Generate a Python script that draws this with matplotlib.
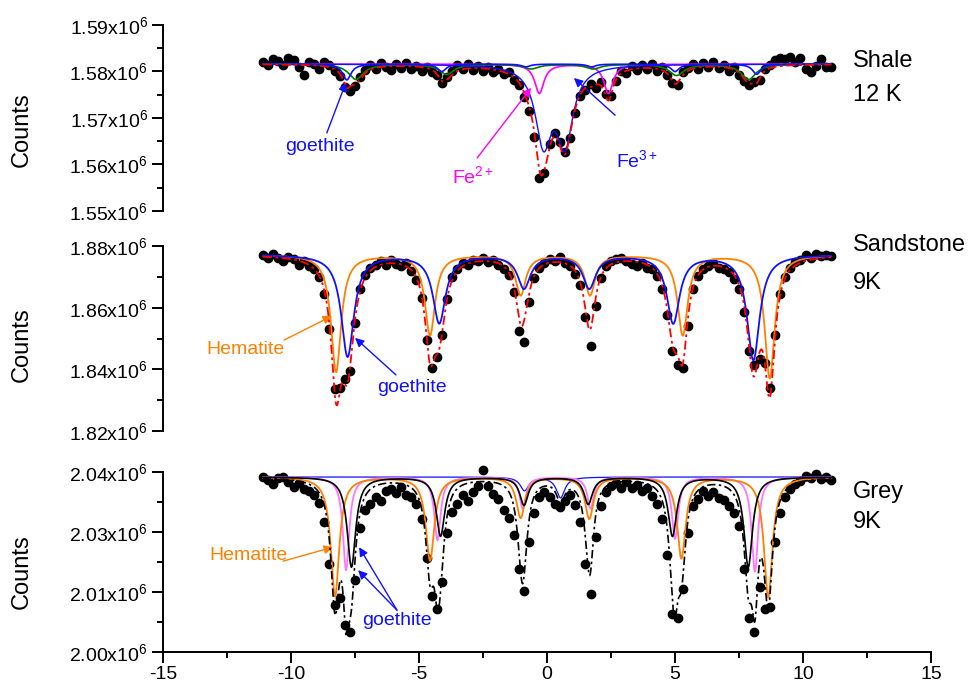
import numpy as np
import matplotlib
matplotlib.use('Agg')
import matplotlib.pyplot as plt

plt.rcParams['font.family'] = ['Liberation Sans', 'DejaVu Sans']
plt.rcParams['mathtext.fontset'] = 'custom'
plt.rcParams['mathtext.rm'] = 'Liberation Sans'
plt.rcParams['mathtext.it'] = 'Liberation Sans:italic'
plt.rcParams['mathtext.bf'] = 'Liberation Sans:bold'
plt.rcParams['axes.unicode_minus'] = False

# ---------------- data (velocity in mm/s, counts in units of 1000) ----------------
velocity = np.round(np.arange(-11.1, 11.1001, 0.2), 2)   # 112 channels

shale_counts = [
    1582.0, 1581.4, 1582.6, 1582.2, 1581.5, 1582.9, 1582.4, 1580.9,
    1579.2, 1582.1, 1581.6, 1580.6, 1582.0, 1581.3, 1580.2, 1579.0,
    1576.6, 1575.9, 1576.8, 1578.9, 1580.4, 1581.5, 1580.6, 1581.8,
    1581.0, 1580.4, 1581.6, 1580.8, 1581.9, 1580.5, 1581.2, 1580.1,
    1581.0, 1579.9, 1579.3, 1577.6, 1578.9, 1580.2, 1581.3, 1580.6,
    1581.6, 1580.4, 1581.2, 1580.0, 1580.9, 1579.8, 1580.6, 1579.4,
    1579.8, 1578.2, 1577.0, 1574.6, 1571.5, 1566.0, 1557.0, 1558.2,
    1564.5, 1566.8, 1564.8, 1562.6, 1565.8, 1571.0, 1574.8, 1576.0,
    1577.4, 1576.5, 1577.8, 1575.2, 1574.8, 1578.0, 1580.2, 1579.6,
    1581.2, 1580.3, 1581.5, 1580.6, 1581.7, 1580.2, 1581.0, 1579.2,
    1577.6, 1577.2, 1579.8, 1580.8, 1581.6, 1580.5, 1581.9, 1581.0,
    1582.0, 1580.8, 1581.4, 1580.2, 1581.0, 1579.2, 1578.0, 1577.0,
    1577.8, 1578.2, 1580.6, 1581.4, 1582.5, 1583.0, 1582.6, 1583.2,
    1582.1, 1582.8, 1580.6, 1579.8, 1581.2, 1582.6, 1581.0, 1580.9]

sandstone_counts = [
    1877.0, 1876.2, 1877.4, 1876.0, 1875.1, 1876.5, 1875.9, 1873.8,
    1875.2, 1873.6, 1872.4, 1869.8, 1864.5, 1853.0, 1833.5, 1834.0,
    1836.8, 1839.5, 1855.0, 1866.2, 1870.5, 1872.8, 1874.0, 1875.3,
    1874.0, 1875.6, 1874.2, 1873.5, 1874.6, 1872.0, 1869.0, 1863.0,
    1849.5, 1840.6, 1844.0, 1851.0, 1862.8, 1869.8, 1872.5, 1874.4,
    1873.9, 1875.6, 1875.0, 1876.0, 1874.8, 1875.4, 1874.0, 1872.6,
    1870.5, 1865.0, 1852.5, 1849.0, 1862.0, 1869.6, 1873.0, 1874.6,
    1875.8, 1875.2, 1876.3, 1874.6, 1873.6, 1871.0, 1867.5, 1857.0,
    1847.5, 1860.5, 1869.5, 1873.5, 1875.0, 1875.8, 1876.2, 1875.0,
    1874.3, 1873.5, 1874.6, 1873.0, 1872.4, 1870.4, 1866.0, 1857.5,
    1846.0, 1841.5, 1840.5, 1854.0, 1866.0, 1870.4, 1872.5, 1873.6,
    1874.5, 1873.0, 1872.6, 1871.5, 1869.4, 1866.0, 1858.5, 1846.0,
    1841.5, 1843.5, 1842.0, 1834.0, 1851.0, 1864.5, 1870.0, 1873.0,
    1874.8, 1875.6, 1877.0, 1876.2, 1877.5, 1876.8, 1877.2, 1876.6]

grey_counts = [
    2038.8, 2038.2, 2037.4, 2038.6, 2038.9, 2037.8, 2036.6, 2037.5,
    2036.2, 2035.8, 2035.0, 2033.2, 2029.0, 2019.5, 2010.5, 2012.0,
    2006.0, 2004.5, 2016.0, 2027.5, 2031.5, 2032.8, 2034.5, 2033.6,
    2035.8, 2036.2, 2035.4, 2036.6, 2035.0, 2034.4, 2033.0, 2029.5,
    2021.0, 2012.5, 2009.5, 2015.5, 2026.5, 2031.2, 2033.0, 2034.8,
    2033.5, 2035.5, 2037.0, 2040.4, 2036.8, 2035.2, 2034.0, 2031.5,
    2029.8, 2026.0, 2018.5, 2013.5, 2024.5, 2031.0, 2034.5, 2035.6,
    2034.4, 2033.0, 2032.2, 2033.5, 2034.8, 2032.6, 2029.0, 2019.5,
    2013.0, 2025.5, 2032.5, 2035.6, 2036.8, 2037.6, 2036.4, 2037.8,
    2036.5, 2037.2, 2035.8, 2036.4, 2034.6, 2033.0, 2029.5, 2021.5,
    2008.5, 2007.5, 2014.0, 2026.5, 2032.5, 2034.0, 2035.8, 2034.6,
    2035.5, 2034.2, 2033.8, 2032.5, 2031.0, 2028.0, 2018.5, 2007.5,
    2004.5, 2014.5, 2009.5, 2010.0, 2024.5, 2031.0, 2034.5, 2036.2,
    2037.4, 2038.0, 2039.2, 2038.6, 2039.6, 2038.4, 2039.0, 2038.2]

# fitted sub-spectra (line positions mm/s, depths in 1000 counts, half widths mm/s)
shale_base = 1581.6
shale_goethite_pos = [-7.82, -4.11, -0.83, 1.74, 5.00, 8.19]
shale_goethite_depth = [3.4, 1.6, 0.6, 0.6, 1.6, 2.2]
shale_goethite_hw = 0.20
shale_green_pos = [-7.46, -3.92, -0.62, 1.80, 5.06, 7.87]
shale_green_depth = [3.3, 2.2, 1.0, 1.0, 2.4, 3.3]
shale_green_hw = 0.35
shale_fe2_pos = [-0.30, 2.40]
shale_fe2_depth = [6.3, 6.3]
shale_fe2_hw = 0.22
shale_fe3_pos = [-0.14, 0.70]
shale_fe3_depth = [16.1, 16.1]
shale_fe3_hw = 0.38

sand_base = 1877.2
sand_hem_pos = [-8.24, -4.57, -1.03, 1.68, 5.30, 8.70]
sand_hem_depth = [38.0, 26.0, 13.0, 13.0, 26.0, 40.0]
sand_hem_hw = 0.24
sand_goe_pos = [-7.79, -4.21, -0.90, 1.65, 4.93, 8.06]
sand_goe_depth = [33.0, 22.0, 10.7, 10.7, 22.0, 34.0]
sand_goe_hw = 0.30

grey_base = 2038.9
grey_hem_pos = [-8.28, -4.57, -1.03, 1.65, 5.25, 8.64]
grey_hem_depth = [26.5, 18.5, 9.0, 9.2, 18.0, 26.7]
grey_hem_hw = 0.20
grey_goe1_pos = [-7.85, -4.28, -0.95, 1.70, 5.00, 8.12]
grey_goe1_depth = [20.7, 14.0, 7.0, 7.0, 13.7, 21.0]
grey_goe1_hw = 0.15
grey_goe2_pos = [-7.64, -4.16, -0.90, 1.61, 4.90, 7.86]
grey_goe2_depth = [20.0, 13.1, 6.2, 6.0, 13.1, 20.0]
grey_goe2_hw = 0.20
grey_dbl_pos = [-0.88, 0.53]
grey_dbl_depth = [3.0, 4.6]
grey_dbl_hw = 0.20


def absorption(v, pos, depth, hw):
    out = np.zeros_like(v)
    for p, d in zip(pos, depth):
        out += d / (1.0 + ((v - p) / hw) ** 2)
    return out


vfit = np.linspace(-11.1, 11.1, 1500)

fig = plt.figure(figsize=(9.75, 6.87), dpi=100)
ax1 = fig.add_axes([0.1672, 0.6929, 0.7877, 0.2707])
ax2 = fig.add_axes([0.1672, 0.3726, 0.7877, 0.2693])
ax3 = fig.add_axes([0.1672, 0.0509, 0.7877, 0.2620])

RED = '#ff0000'
BLUE = '#1010ff'
GREEN = '#008000'
MAG = '#ff00ff'
PINK = '#ff77ff'
ORANGE = '#ff8000'
dashdot = (0, (5, 2, 1.5, 2))
MS = 6

# ---- Shale ----
ax1.plot(velocity, shale_counts, 'o', color='black', ms=MS, zorder=2, clip_on=False)
a_goe = absorption(vfit, shale_goethite_pos, shale_goethite_depth, shale_goethite_hw)
a_grn = absorption(vfit, shale_green_pos, shale_green_depth, shale_green_hw)
a_fe2 = absorption(vfit, shale_fe2_pos, shale_fe2_depth, shale_fe2_hw)
a_fe3 = absorption(vfit, shale_fe3_pos, shale_fe3_depth, shale_fe3_hw)
ax1.plot(vfit, shale_base - a_fe2, color=MAG, lw=1.2, zorder=3)
ax1.plot(vfit, shale_base - a_grn, color=GREEN, lw=1.2, zorder=3)
ax1.plot(vfit, shale_base - a_goe, color=BLUE, lw=1.2, zorder=3)
ax1.plot(vfit, shale_base - a_fe3, color=BLUE, lw=1.0, zorder=3)
ax1.plot(vfit, shale_base - (a_goe + a_grn + a_fe2 + a_fe3), color=RED,
         ls=dashdot, lw=1.3, zorder=4)

# ---- Sandstone ----
ax2.plot(velocity, sandstone_counts, 'o', color='black', ms=MS, zorder=2, clip_on=False)
a_hem = absorption(vfit, sand_hem_pos, sand_hem_depth, sand_hem_hw)
a_goe2 = absorption(vfit, sand_goe_pos, sand_goe_depth, sand_goe_hw)
ax2.plot(vfit, sand_base - a_hem, color=ORANGE, lw=1.3, zorder=3)
ax2.plot(vfit, sand_base - a_goe2, color=BLUE, lw=1.3, zorder=3)
ax2.plot(vfit, sand_base - (a_hem + a_goe2), color=RED, ls=dashdot, lw=1.3, zorder=4)

# ---- Grey ----
ax3.plot(velocity, grey_counts, 'o', color='black', ms=MS, zorder=2, clip_on=False)
g_hem = absorption(vfit, grey_hem_pos, grey_hem_depth, grey_hem_hw)
g_g1 = absorption(vfit, grey_goe1_pos, grey_goe1_depth, grey_goe1_hw)
g_g2 = absorption(vfit, grey_goe2_pos, grey_goe2_depth, grey_goe2_hw)
g_db = absorption(vfit, grey_dbl_pos, grey_dbl_depth, grey_dbl_hw)
ax3.plot(vfit, grey_base - g_db, color=BLUE, lw=0.9, zorder=3)
ax3.plot(vfit, grey_base - g_g1, color=PINK, lw=1.3, zorder=3)
ax3.plot(vfit, grey_base - g_hem, color=ORANGE, lw=1.3, zorder=3)
ax3.plot(vfit, grey_base - g_g2, color='black', lw=1.2, zorder=3)
ax3.plot(vfit, grey_base - (g_hem + g_g1 + g_g2 + g_db), color='black',
         ls=dashdot, lw=1.2, zorder=4)


def style(ax, ylim, major, labels, minor, show_x=False):
    ax.set_xlim(-15, 15)
    ax.set_ylim(*ylim)
    ax.set_yticks(major)
    ax.set_yticklabels(labels)
    ax.set_yticks(minor, minor=True)
    ax.patch.set_alpha(0)
    for s in ['top', 'right']:
        ax.spines[s].set_visible(False)
    ax.spines['left'].set_linewidth(1.4)
    ax.spines['bottom'].set_linewidth(1.4)
    ax.tick_params(axis='y', which='major', length=8, width=1.4, labelsize=14, pad=3)
    ax.tick_params(axis='y', which='minor', length=4.5, width=1.4)
    if show_x:
        ax.set_xticks([-15, -10, -5, 0, 5, 10, 15])
        ax.set_xticks([-12.5, -7.5, -2.5, 2.5, 7.5, 12.5], minor=True)
        ax.tick_params(axis='x', which='major', length=8, width=1.4, labelsize=14, pad=2)
        ax.tick_params(axis='x', which='minor', length=4.5, width=1.4)
    else:
        ax.spines['bottom'].set_visible(False)
        ax.tick_params(axis='x', which='both', bottom=False, labelbottom=False)


def lab(v):
    return '%.2fx10$^{6}$' % v


style(ax1, (1550, 1590), [1550, 1560, 1570, 1580, 1590],
      [lab(1.55), lab(1.56), lab(1.57), lab(1.58), lab(1.59)],
      [1555, 1565, 1575, 1585])
style(ax2, (1820, 1880), [1820, 1840, 1860, 1880],
      [lab(1.82), lab(1.84), lab(1.86), lab(1.88)],
      [1830, 1850, 1870])
grey_ticks = [2000, 2000 + 40 / 3, 2000 + 80 / 3, 2040]
style(ax3, (2000, 2040), grey_ticks,
      [lab(2.00), lab(2.01), lab(2.03), lab(2.04)],
      [2000 + 20 / 3, 2020, 2000 + 100 / 3], show_x=True)

# y labels
for yc in [130, 345, 572]:
    fig.text(22 / 975, 1 - yc / 687, 'Counts', rotation=90, fontsize=17,
             ha='center', va='center')

# sample labels
ax1.text(11.95, 1582.3, 'Shale', fontsize=17, ha='left', va='center')
ax1.text(11.95, 1574.9, '12 K', fontsize=17, ha='left', va='center')
ax2.text(11.95, 1880.3, 'Sandstone', fontsize=17, ha='left', va='center', clip_on=False)
ax2.text(11.95, 1868.0, '9K', fontsize=17, ha='left', va='center')
ax3.text(11.95, 2035.5, 'Grey', fontsize=17, ha='left', va='center')
ax3.text(11.95, 2029.0, '9K', fontsize=17, ha='left', va='center')


def arrow(ax, tip, tail, color):
    ax.annotate('', xy=tip, xytext=tail,
                arrowprops=dict(arrowstyle='-|>', color=color, lw=1.0,
                                mutation_scale=13, shrinkA=0, shrinkB=0))


FS = 14
# Shale annotations
ax1.text(-8.87, 1563.8, 'goethite', color=BLUE, fontsize=FS, ha='center', va='center')
arrow(ax1, (-7.85, 1577.7), (-8.6, 1566.8), BLUE)
ax1.text(-3.7, 1557.5, 'Fe$^{2+}$', color=MAG, fontsize=FS, ha='left', va='center')
arrow(ax1, (-0.62, 1576.5), (-2.73, 1561.4), MAG)
ax1.text(2.7, 1561.0, 'Fe$^{3+}$', color=BLUE, fontsize=FS, ha='left', va='center')
arrow(ax1, (1.05, 1578.6), (2.66, 1570.6), BLUE)

# Sandstone annotations
ax2.text(-11.76, 1846.3, 'Hematite', color=ORANGE, fontsize=FS, ha='center', va='center')
arrow(ax2, (-8.40, 1857.3), (-10.27, 1849.5), ORANGE)
ax2.text(-5.27, 1834.0, 'goethite', color=BLUE, fontsize=FS, ha='center', va='center')
arrow(ax2, (-7.5, 1850.2), (-5.9, 1838.2), BLUE)

# Grey annotations
ax3.text(-11.68, 2021.5, 'Hematite', color=ORANGE, fontsize=FS, ha='center', va='center')
arrow(ax3, (-8.36, 2023.3), (-10.31, 2020.2), ORANGE)
ax3.text(-5.86, 2007.0, 'goethite', color=BLUE, fontsize=FS, ha='center', va='center')
arrow(ax3, (-7.34, 2023.3), (-5.86, 2009.3), BLUE)
arrow(ax3, (-7.38, 2018.2), (-5.86, 2009.3), BLUE)

fig.savefig('out.png', dpi=100, facecolor='white')
